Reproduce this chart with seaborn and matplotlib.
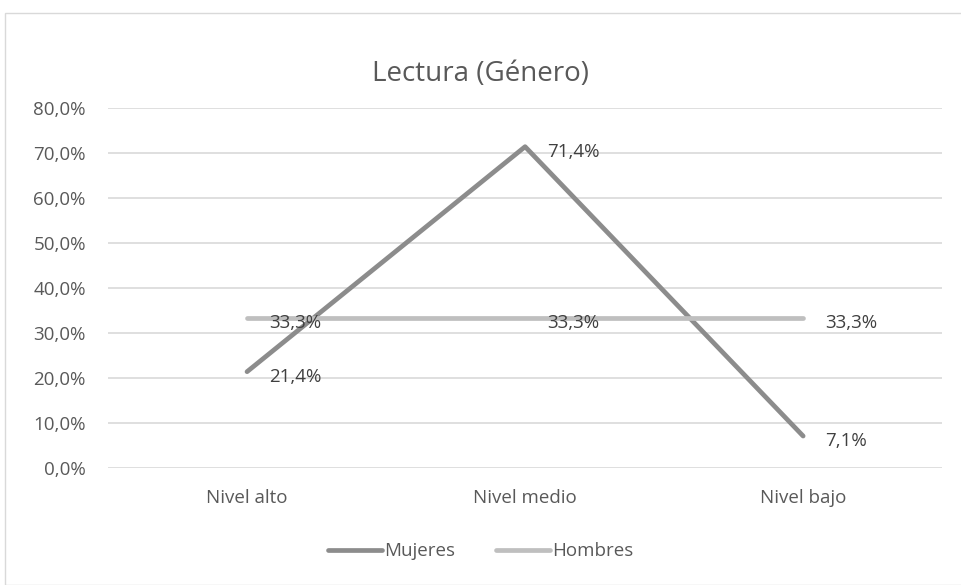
import matplotlib
matplotlib.use("Agg")
import matplotlib.pyplot as plt
import pandas as pd
import seaborn as sns
from matplotlib.patches import Rectangle

# data
niveles = ["Nivel alto", "Nivel medio", "Nivel bajo"]
mujeres = [21.4, 71.4, 7.1]
hombres = [33.3, 33.3, 33.3]
series = ["Mujeres", "Hombres"]
colores = ["#8c8c8c", "#bfbfbf"]
yticks = [0, 10, 20, 30, 40, 50, 60, 70, 80]

df = pd.DataFrame({
    "Nivel": niveles * 2,
    "Valor": mujeres + hombres,
    "Serie": ["Mujeres"] * 3 + ["Hombres"] * 3,
})
df["x"] = df["Nivel"].map({n: i for i, n in enumerate(niveles)})

sns.set_style("white")
plt.rcParams["font.family"] = ["Open Sans", "DejaVu Sans"]
txt = "#595959"

fig = plt.figure(figsize=(9.61, 5.85), dpi=100)
ax = fig.add_axes([0.1124, 0.2, 0.868, 0.6154])

sns.lineplot(data=df, x="x", y="Valor", hue="Serie", hue_order=series,
             palette=colores, linewidth=3.4, ax=ax, legend=False,
             solid_capstyle="round")

for serie, vals in zip(series, [mujeres, hombres]):
    for i, v in enumerate(vals):
        ax.annotate(f"{v:.1f}%".replace(".", ","), (i, v), xytext=(16, -3.5),
                    textcoords="offset points", ha="left", va="center",
                    fontsize=13.5, color="#404040")

ax.set_xlim(-0.5, 2.5)
ax.set_ylim(0, 80)
ax.set_yticks(yticks)
ax.set_yticklabels([f"{t:.1f}%".replace(".", ",") for t in yticks])
ax.set_xticks(range(len(niveles)))
ax.set_xticklabels(niveles)
ax.tick_params(axis="both", length=0, labelsize=13.5, labelcolor=txt)
ax.tick_params(axis="x", pad=15)
ax.tick_params(axis="y", pad=16)
ax.grid(axis="y", color="#d9d9d9", linewidth=1.2)
ax.set_axisbelow(True)
for s in ax.spines.values():
    s.set_visible(False)
ax.set_xlabel("")
ax.set_ylabel("")

fig.text(0.5, 0.874, "Lectura (Género)", ha="center", va="center",
         fontsize=20, color=txt)

handles = [plt.Line2D([], [], color=c, linewidth=3.4, solid_capstyle="round")
           for c in colores]
fig.legend(handles, series, loc="center", bbox_to_anchor=(0.5, 0.058), ncol=2,
           frameon=False, fontsize=13.5, labelcolor=txt, handlelength=2.9,
           handletextpad=0.1, columnspacing=2.2)

fig.patches.append(Rectangle((5 / 961, 0), 1, 1 - 13 / 585, transform=fig.transFigure,
                             fill=False, edgecolor="#d9d9d9", linewidth=1))

fig.savefig("out.png", dpi=100)
